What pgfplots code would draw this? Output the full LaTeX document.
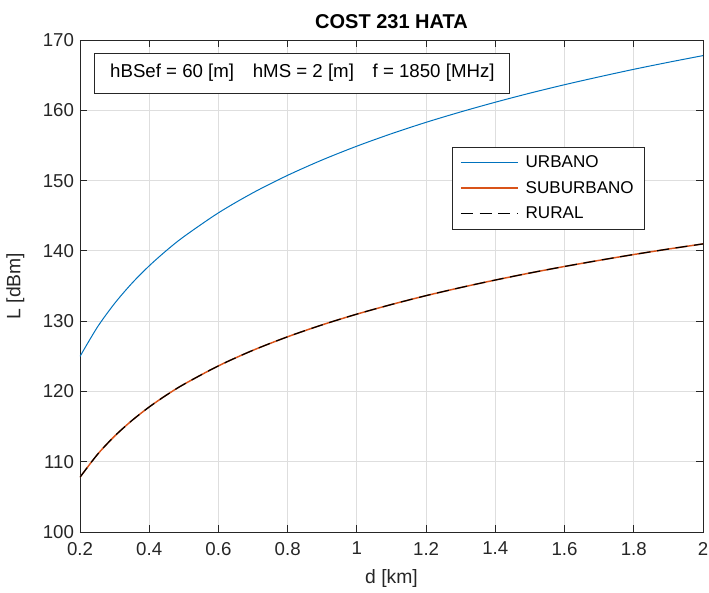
\documentclass[border=0pt]{standalone}
\usepackage{fontspec}
\setmainfont{Liberation Sans}
\usepackage{pgfplots}
\pgfplotsset{compat=1.18}
\definecolor{mblue}{RGB}{0,114,189}
\definecolor{morange}{RGB}{217,83,25}
\definecolor{axgray}{RGB}{38,38,38}

\pgfplotstableread{
d     urb     sub
0.20  124.98  107.79
0.25  129.13  111.01
0.30  132.52  113.64
0.35  135.39  115.86
0.40  137.87  117.79
0.45  140.06  119.49
0.50  142.02  121.01
0.60  145.41  123.64
0.70  148.27  125.86
0.80  150.75  127.78
0.90  152.94  129.48
1.00  154.90  131.00
1.10  156.67  132.37
1.20  158.29  133.63
1.30  159.77  134.78
1.40  161.15  135.85
1.50  162.44  136.85
1.60  163.64  137.78
1.70  164.76  138.65
1.80  165.83  139.48
1.90  166.83  140.26
2.00  167.78  140.99
}\datos

\begin{document}
\begin{tikzpicture}
\useasboundingbox (-60pt,-45pt) rectangle (471.75pt,399pt);
\begin{axis}[
  at={(0,0)}, anchor=south west,
  scale only axis,
  width=467.25pt, height=369pt,
  xmin=0.2, xmax=2, ymin=100, ymax=170,
  xtick={0.2,0.4,...,2.0},
  ytick={100,110,...,170},
  xticklabels={0.2,0.4,0.6,0.8,1,1.2,1.4,1.6,1.8,2},
  /pgf/number format/assume math mode=true,
  tick label style={font=\fontsize{14}{16}\selectfont, text=axgray},
  xticklabel style={yshift=-4pt},
  yticklabel style={xshift=-1pt},
  grid=major,
  major grid style={draw=black!13, line width=0.6pt},
  axis line style={draw=axgray, line width=0.6pt},
  tick style={draw=axgray, line width=0.6pt},
  tick align=inside,
  major tick length=5pt,
  xtick pos=both, ytick pos=both,
  title={\textbf{COST 231 HATA}},
  title style={font=\fontsize{15}{17}\selectfont, at={(axis description cs:0.5,1)}, anchor=center, yshift=8pt},
  xlabel={d [km]},
  ylabel={L [dBm]},
  label style={font=\fontsize{14.5}{16}\selectfont, text=axgray},
  xlabel style={at={(axis description cs:0.5,0)}, anchor=center, yshift=-34.5pt},
  ylabel style={at={(axis description cs:0,0.5)}, anchor=center, yshift=48.5pt},
  legend cell align=left,
  legend style={at={(0.597,0.7825)}, anchor=north west,
    draw=axgray, font=\fontsize{12.8}{15}\selectfont,
    inner xsep=6pt, inner ysep=4.5pt, row sep=4.5pt},
  legend image code/.code={\draw[#1] (0pt,0pt) -- (43pt,0pt);},
]
\addplot[mblue, line width=0.75pt, smooth, forget plot] table[x=d, y=urb] {\datos};
\addplot[morange, line width=1.1pt, smooth, forget plot] table[x=d, y=sub] {\datos};
\addplot[black, line width=0.9pt, dash pattern=on 9pt off 5pt, smooth, forget plot] table[x=d, y=sub] {\datos};
\addlegendimage{draw=mblue, line width=0.75pt}
\addlegendentry{\hspace{3pt}URBANO}
\addlegendimage{draw=morange, line width=1.1pt}
\addlegendentry{\hspace{3pt}SUBURBANO}
\addlegendimage{draw=black, line width=0.9pt, dash pattern=on 9pt off 5pt}
\addlegendentry{\hspace{3pt}RURAL}
\draw[axgray, line width=0.6pt, fill=white] (axis cs:0.243,168.15) rectangle (axis cs:1.442,162.46);
\node[font=\fontsize{14}{16}\selectfont, text=black] at (axis cs:0.8425,165.3) {hBSef = 60 [m]\quad hMS = 2 [m]\quad f = 1850 [MHz]};
\end{axis}
\end{tikzpicture}
\end{document}
